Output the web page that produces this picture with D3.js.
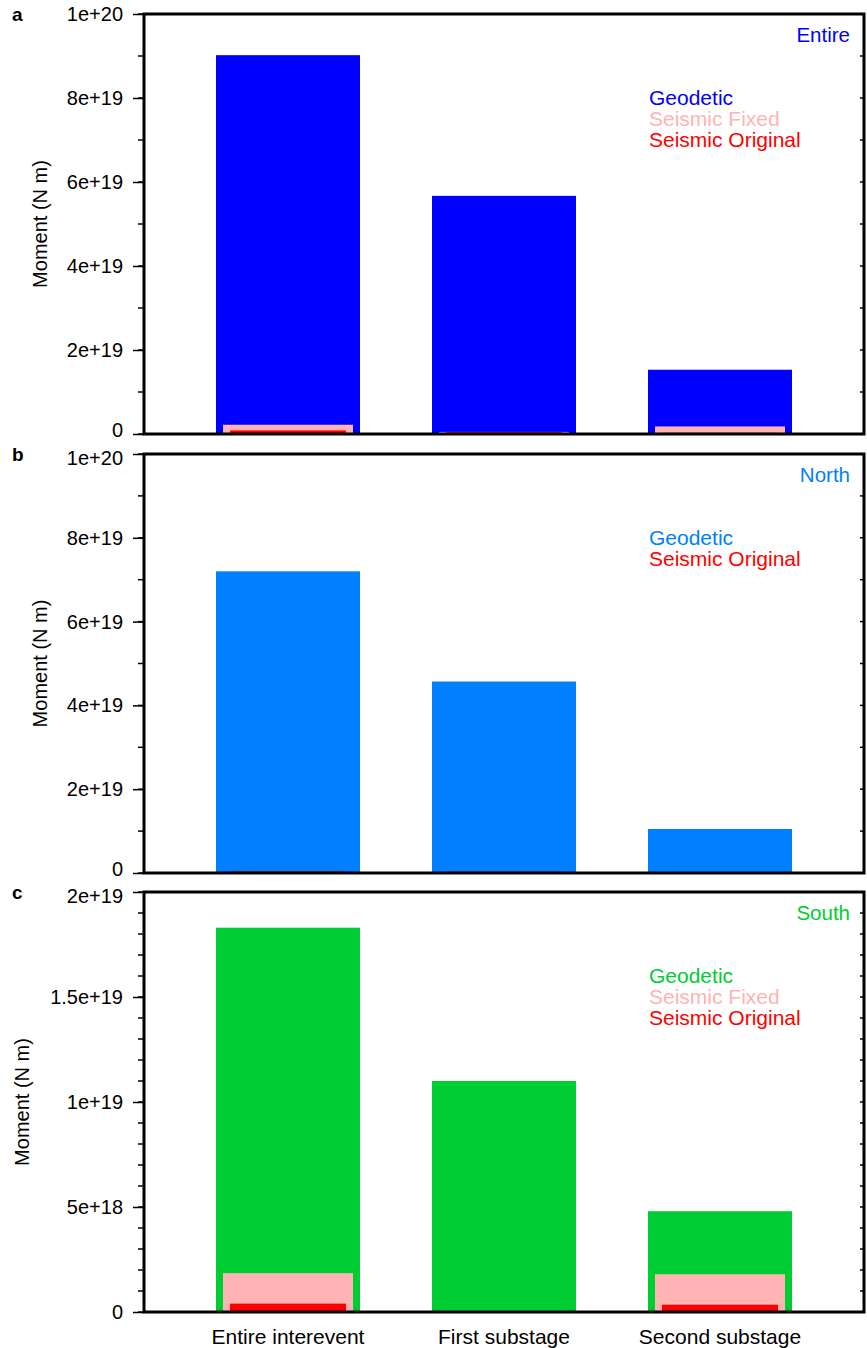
<!DOCTYPE html>
<html>
<head>
<meta charset="utf-8">
<script src="https://cdn.jsdelivr.net/npm/d3@7"></script>
<style>
  body { margin: 0; background: #fff; }
  svg { font-family: "Liberation Sans", Arial, Helvetica, sans-serif; }
</style>
</head>
<body>
<svg id="chart" width="867" height="1348"></svg>
<script>
// categories along x
const categories = ["Entire interevent", "First substage", "Second substage"];

// panel a - Entire
const entireGeodetic = [9.02e19, 5.67e19, 1.53e19];
const entireFixed = [2.2e18, 0.5e18, 1.8e18];
const entireOriginal = [0.85e18, 0.45e18, 0.3e18];

// panel b - North
const northGeodetic = [7.2e19, 4.57e19, 1.05e19];
const northOriginal = [0.4e18, 0.35e18, 0.05e18];

// panel c - South
const southGeodetic = [1.83e19, 1.1e19, 4.8e18];
const southFixed = [1.85e18, 0.06e18, 1.8e18];
const southOriginal = [0.4e18, 0.05e18, 0.35e18];

// tick labels
const ticksAB = [0, 2e19, 4e19, 6e19, 8e19, 1e20];
const tickLabelsAB = ["0", "2e+19", "4e+19", "6e+19", "8e+19", "1e+20"];
const ticksC = [0, 5e18, 1e19, 1.5e19, 2e19];
const tickLabelsC = ["0", "5e+18", "1e+19", "1.5e+19", "2e+19"];

const colors = {
  entire: "#0000ff",
  north: "#0080ff",
  south: "#00cc33",
  fixed: "#ffb3b3",
  original: "#ff0000"
};

const panels = [
  { letter: "a", name: "Entire", color: colors.entire, top: 14, bottom: 434, max: 1e20,
    ticks: ticksAB, labels: tickLabelsAB, minor: 1e19, titleX: 40,
    series: [
      { name: "Geodetic", values: entireGeodetic, color: colors.entire, w: 144 / 216 },
      { name: "Seismic Fixed", values: entireFixed, color: colors.fixed, w: 130 / 216 },
      { name: "Seismic Original", values: entireOriginal, color: colors.original, w: 116 / 216 }
    ] },
  { letter: "b", name: "North", color: colors.north, top: 454, bottom: 873, max: 1e20,
    ticks: ticksAB, labels: tickLabelsAB, minor: 1e19, titleX: 40,
    series: [
      { name: "Geodetic", values: northGeodetic, color: colors.north, w: 144 / 216 },
      { name: "Seismic Original", values: northOriginal, color: colors.original, w: 116 / 216 }
    ] },
  { letter: "c", name: "South", color: colors.south, top: 892, bottom: 1312, max: 2e19,
    ticks: ticksC, labels: tickLabelsC, minor: 1e18, titleX: 22,
    series: [
      { name: "Geodetic", values: southGeodetic, color: colors.south, w: 144 / 216 },
      { name: "Seismic Fixed", values: southFixed, color: colors.fixed, w: 130 / 216 },
      { name: "Seismic Original", values: southOriginal, color: colors.original, w: 116 / 216 }
    ] }
];

const svg = d3.select("#chart");
const left = 144, right = 864;

const x = d3.scaleBand()
  .domain(categories)
  .range([left, right])
  .paddingInner(0)
  .paddingOuter(1 / 6);

panels.forEach((p, pi) => {
  const y = d3.scaleLinear().domain([0, p.max]).range([p.bottom, p.top]);
  const g = svg.append("g");

  // bars
  p.series.forEach(s => {
    g.selectAll(null)
      .data(s.values)
      .enter().append("rect")
      .attr("x", (d, i) => x(categories[i]) + x.bandwidth() * (1 - s.w) / 2)
      .attr("width", x.bandwidth() * s.w)
      .attr("y", d => y(d))
      .attr("height", d => y(0) - y(d))
      .attr("fill", s.color);
  });

  // minor ticks
  const minorVals = d3.range(0, p.max + p.minor / 2, p.minor);
  g.selectAll(null).data(minorVals).enter().append("line")
    .attr("x1", left - 6).attr("x2", left)
    .attr("y1", d => y(d)).attr("y2", d => y(d))
    .attr("stroke", "#000").attr("stroke-width", 1.5);
  g.selectAll(null).data(minorVals).enter().append("line")
    .attr("x1", right).attr("x2", right - 4)
    .attr("y1", d => y(d)).attr("y2", d => y(d))
    .attr("stroke", "#000").attr("stroke-width", 1.5);

  // major ticks + labels
  const yAxis = d3.axisLeft(y)
    .tickValues(p.ticks)
    .tickFormat((d, i) => p.labels[i])
    .tickSize(11)
    .tickPadding(10);
  const ax = g.append("g").attr("transform", `translate(${left},0)`).call(yAxis);
  ax.select(".domain").remove();
  ax.selectAll(".tick line").attr("stroke-width", 1.5);
  ax.selectAll(".tick text").attr("font-size", 20).attr("fill", "#000")
    .attr("font-family", "'Liberation Sans', Arial, sans-serif")
    // nudge labels where panels meet so they don't collide
    .attr("dy", d => d === 0 && pi < panels.length - 1 ? "0.1em" : (d === p.max && pi > 0 ? "0.5em" : "0.32em"));

  // frame
  g.append("rect")
    .attr("x", left).attr("y", p.top)
    .attr("width", right - left).attr("height", p.bottom - p.top)
    .attr("fill", "none").attr("stroke", "#000").attr("stroke-width", 3);

  // y title
  g.append("text")
    .attr("transform", `translate(${p.titleX},${(p.top + p.bottom) / 2}) rotate(-90)`)
    .attr("text-anchor", "middle")
    .attr("dy", "0.35em")
    .attr("font-size", 20)
    .text("Moment (N m)");

  // panel letter
  g.append("text")
    .attr("x", 12).attr("y", p.top + 7)
    .attr("font-size", 19).attr("font-weight", "bold")
    .text(p.letter);

  // region label
  g.append("text")
    .attr("x", 850).attr("y", p.top + 21)
    .attr("dy", "0.35em")
    .attr("text-anchor", "end")
    .attr("font-size", 20.5)
    .attr("fill", p.color)
    .text(p.name);

  // legend
  g.selectAll(null).data(p.series).enter().append("text")
    .attr("x", 649)
    .attr("y", (d, i) => p.top + 84 + i * 21)
    .attr("dy", "0.35em")
    .attr("font-size", 21)
    .attr("fill", d => d.color)
    .text(d => d.name);

  // x labels only under last panel
  if (pi === panels.length - 1) {
    g.selectAll(null).data(categories).enter().append("text")
      .attr("x", d => x(d) + x.bandwidth() / 2)
      .attr("y", p.bottom + 25)
      .attr("dy", "0.35em")
      .attr("text-anchor", "middle")
      .attr("font-size", 21)
      .text(d => d);
  }
});
</script>
</body>
</html>
